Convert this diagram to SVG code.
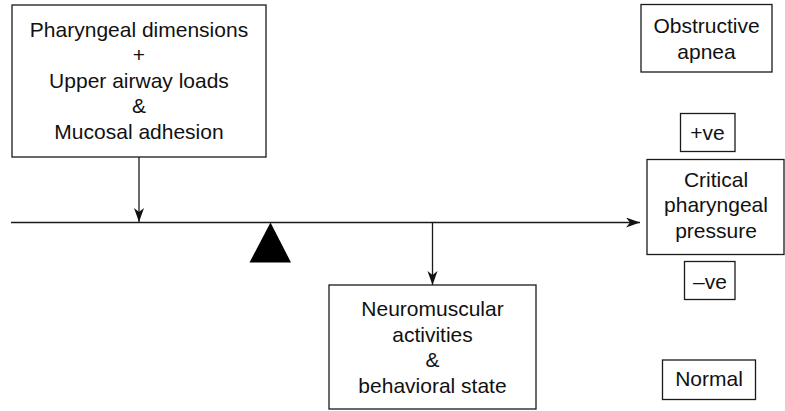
<svg xmlns="http://www.w3.org/2000/svg" width="785" height="411" viewBox="0 0 785 411">
<style>
.box{fill:#fff;stroke:#1a1a1a;stroke-width:1.3}
.t{font-family:"Liberation Sans",Arial,sans-serif;font-size:21px;fill:#111;text-anchor:middle}
.ln{stroke:#1a1a1a;stroke-width:1.3;fill:none}
</style>
<defs>
<marker id="arr" markerUnits="userSpaceOnUse" markerWidth="16" markerHeight="12" refX="14" refY="5" orient="auto">
<path d="M0,0 L14,5 L0,10 L4,5 Z" fill="#111"/>
</marker>
</defs>
<g id="connectors">
<line class="ln" x1="11" y1="222.5" x2="640" y2="222.5" marker-end="url(#arr)"/>
<line class="ln" x1="139" y1="157" x2="139" y2="222" marker-end="url(#arr)"/>
<line class="ln" x1="432.5" y1="222.5" x2="432.5" y2="285" marker-end="url(#arr)"/>
</g>
<g id="fulcrum">
<polygon points="270.5,222.5 249.5,262.5 291,262.5" fill="#000"/>
</g>
<g id="pharyngeal">
<rect class="box" x="12" y="5" width="254" height="152"/>
<text class="t" x="139" y="36.5">Pharyngeal dimensions</text>
<text class="t" x="139" y="62">+</text>
<text class="t" x="139" y="87.5">Upper airway loads</text>
<text class="t" x="139" y="113">&amp;</text>
<text class="t" x="139" y="138.5">Mucosal adhesion</text>
</g>
<g id="neuromuscular">
<rect class="box" x="329" y="285" width="207" height="124"/>
<text class="t" x="432.5" y="316">Neuromuscular</text>
<text class="t" x="432.5" y="341.5">activities</text>
<text class="t" x="432.5" y="367">&amp;</text>
<text class="t" x="432.5" y="392.5">behavioral state</text>
</g>
<g id="obstructive">
<rect class="box" x="641" y="4.5" width="131" height="67.5"/>
<text class="t" x="706.5" y="32.5">Obstructive</text>
<text class="t" x="706.5" y="58.5">apnea</text>
</g>
<g id="plusve">
<rect class="box" x="680.5" y="113.5" width="54.5" height="38"/>
<text class="t" x="707.5" y="140">+ve</text>
</g>
<g id="critical">
<rect class="box" x="647" y="159.5" width="137" height="95"/>
<text class="t" x="716" y="186.5">Critical</text>
<text class="t" x="716" y="212">pharyngeal</text>
<text class="t" x="716" y="238">pressure</text>
</g>
<g id="minusve">
<rect class="box" x="684.5" y="261.5" width="50.5" height="38"/>
<text class="t" x="710" y="289">–ve</text>
</g>
<g id="normal">
<rect class="box" x="662.5" y="360" width="93" height="39.5"/>
<text class="t" x="709" y="386">Normal</text>
</g>
</svg>
